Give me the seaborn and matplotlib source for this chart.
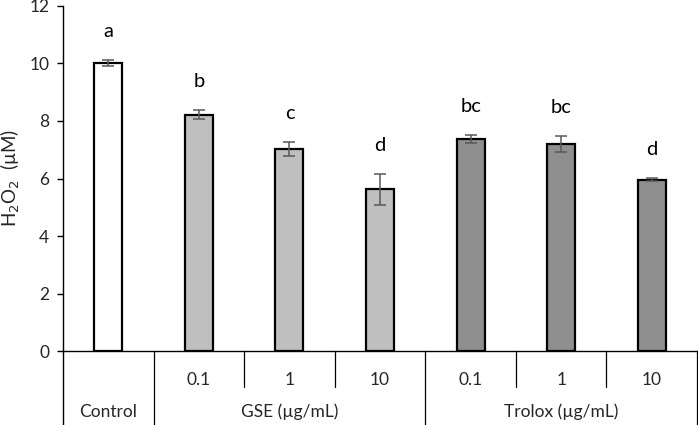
import matplotlib
matplotlib.use("Agg")
import matplotlib.pyplot as plt
import matplotlib.transforms as mtransforms
import numpy as np
import pandas as pd
import seaborn as sns

# data
conditions = ["Control", "GSE 0.1", "GSE 1", "GSE 10", "Trolox 0.1", "Trolox 1", "Trolox 10"]
groups = ["Control", "GSE", "GSE", "GSE", "Trolox", "Trolox", "Trolox"]
dose_labels = ["", "0.1", "1", "10", "0.1", "1", "10"]
h2o2_mean = [10.02, 8.22, 7.02, 5.62, 7.37, 7.20, 5.96]
h2o2_err = [0.11, 0.16, 0.25, 0.55, 0.13, 0.29, 0.06]
letters = ["a", "b", "c", "d", "bc", "bc", "d"]
group_titles = ["Control", "GSE (\u00b5g/mL)", "Trolox (\u00b5g/mL)"]
group_spans = [(0, 0), (1, 3), (4, 6)]

palette = {"Control": "#FFFFFF", "GSE": "#BFBFBF", "Trolox": "#8F8F8F"}

sns.set_theme(style="white")
plt.rcParams["font.family"] = ["Lato", "DejaVu Sans"]

df = pd.DataFrame({"condition": conditions, "group": groups, "value": h2o2_mean})

fig = plt.figure(figsize=(6.98, 4.25), dpi=100)
ax = fig.add_axes([0.0903, 0.174, 0.9083, 0.812])

sns.barplot(data=df, x="condition", y="value", hue="group", palette=palette,
            dodge=False, width=0.31, edgecolor="black", linewidth=1.6,
            legend=False, ax=ax)
x = np.arange(len(conditions))
ax.errorbar(x, h2o2_mean, yerr=h2o2_err, fmt="none", ecolor="#595959",
            elinewidth=1.1, capsize=4, capthick=1.1, zorder=5)

for xi, m, e, lab in zip(x, h2o2_mean, h2o2_err, letters):
    ax.text(xi, m + e + 0.8, lab, ha="center", va="baseline", fontsize=14.5, color="black")

ax.set_xlim(-0.5, len(conditions) - 0.5)
ax.set_ylim(0, 12)
ax.set_yticks(range(0, 13, 2))
ax.tick_params(axis="y", direction="out", length=4, width=1, color="black",
               labelsize=12.5, pad=6, left=True)
ax.set_xticks(x)
ax.set_xticklabels(dose_labels)
ax.tick_params(axis="x", length=0, labelsize=12.5, pad=15)
ax.set_xlabel("")
ax.set_ylabel("H$_2$O$_2$  (\u00b5M)", fontsize=13.5)
ax.yaxis.set_label_coords(-0.064, 0.5)

for side in ["top", "right"]:
    ax.spines[side].set_visible(False)
for side in ["left", "bottom"]:
    ax.spines[side].set_color("black")
    ax.spines[side].set_linewidth(1.0)

# category table under the axis
trans = mtransforms.blended_transform_factory(ax.transData, ax.transAxes)
ax.plot([-0.5, -0.5], [0, -0.22], transform=trans, color="black", lw=1.0, clip_on=False)
for i in range(1, len(conditions) + 1):
    b = i - 0.5
    full = b in (0.5, 3.5, 6.5)
    ax.plot([b, b], [0, -0.22 if full else -0.104], transform=trans,
            color="black", lw=0.9, clip_on=False)
for title, (s, e) in zip(group_titles, group_spans):
    ax.text((s + e) / 2, -0.177, title, transform=trans, ha="center", va="center", fontsize=12.5)

fig.savefig("out.png", dpi=100, facecolor="white")
